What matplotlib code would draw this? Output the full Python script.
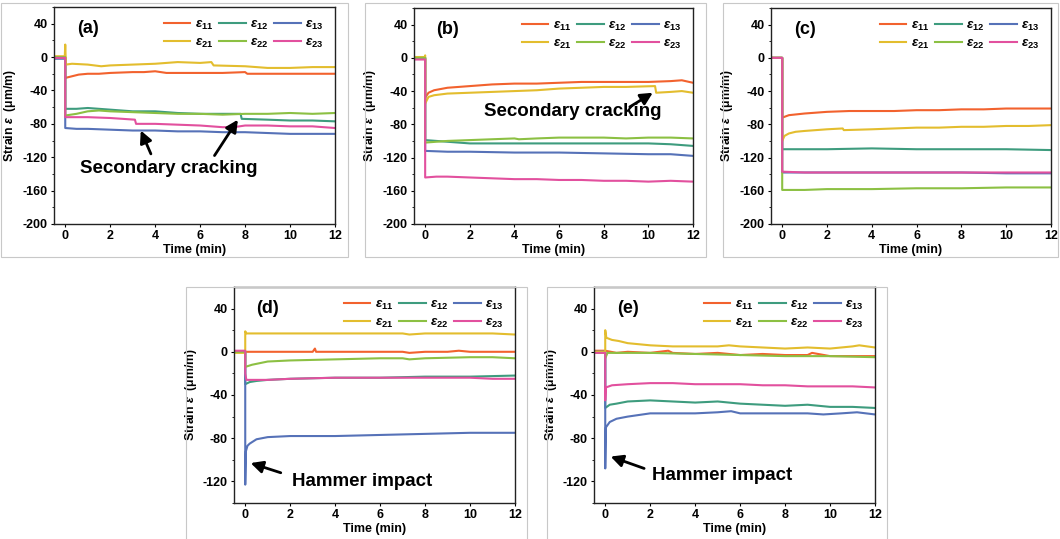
import numpy as np
import matplotlib.pyplot as plt
from matplotlib.patches import Rectangle
from matplotlib.ticker import MultipleLocator

plt.rcParams['font.family'] = ['Liberation Sans', 'DejaVu Sans']
plt.rcParams['font.weight'] = 'bold'
plt.rcParams['axes.labelweight'] = 'bold'
plt.rcParams['axes.unicode_minus'] = False
plt.rcParams['mathtext.fontset'] = 'custom'
plt.rcParams['mathtext.rm'] = 'Liberation Sans:bold'
plt.rcParams['mathtext.it'] = 'Liberation Sans:italic:bold'
plt.rcParams['mathtext.bf'] = 'Liberation Sans:bold'

W, H = 1060, 539

# strain gauge readings, (time in min, strain in um/m)
a_e11 = [(-0.5,0),(0,0),(0,-25),(0.3,-23),(0.6,-21),(1,-20),(1.5,-20),(2,-19),(3,-18),(3.5,-18),(4,-17),(4.5,-19),(5,-19),(6,-19),(7,-19),(8,-18),(8.1,-20),(9,-20),(10,-20),(11,-20),(12,-20)]
a_e12 = [(-0.5,0),(0,0),(0,-62),(0.5,-62),(1,-61),(2,-63),(3,-65),(4,-65),(5,-67),(6,-68),(7,-68),(7.8,-68),(7.85,-74),(9,-75),(10,-76),(11,-76),(12,-77)]
a_e13 = [(-0.5,-2),(0,-2),(0,-85),(0.5,-86),(1,-86),(2,-87),(3,-88),(4,-88),(5,-89),(6,-89),(7,-90),(8,-90),(9,-91),(10,-92),(11,-92),(12,-92)]
a_e21 = [(-0.5,1),(-0.02,1),(0,15),(0.03,-9),(0.3,-8),(1,-9),(1.6,-11),(2,-10),(3,-9),(4,-8),(5,-6),(6,-7),(6.5,-6),(6.6,-10),(8,-11),(9,-13),(10,-13),(11,-12),(12,-12)]
a_e22 = [(-0.5,0),(0,0),(0,-70),(0.5,-68),(1,-65),(1.5,-64),(2,-65),(3,-66),(4,-67),(5,-68),(6,-68),(7,-69),(8,-68),(9,-68),(10,-67),(11,-68),(12,-67)]
a_e23 = [(-0.5,-1),(0,-1),(0,-72),(0.5,-72),(1,-72),(2,-73),(3.1,-75),(3.15,-80),(4,-80),(5,-81),(6,-82),(7,-84),(7.5,-84),(8,-82),(9,-82),(10,-83),(11,-83),(12,-85)]

b_e11 = [(-0.5,0),(0,0),(0,-48),(0.15,-42),(0.4,-39),(1,-36),(2,-34),(3,-32),(4,-31),(5,-31),(6,-30),(7,-29),(8,-29),(9,-29),(10,-29),(11,-28),(11.5,-27),(12,-30)]
b_e12 = [(-0.5,0),(0,0),(0,-99),(0.5,-100),(1,-101),(2,-103),(3,-103),(4,-103),(5,-103),(6,-103),(7,-103),(8,-103),(9,-103),(10,-103),(11,-104),(12,-106)]
b_e13 = [(-0.5,0),(0,0),(0,-112),(1,-113),(2,-113),(4,-114),(6,-114),(8,-115),(10,-116),(11,-116),(12,-118)]
b_e21 = [(-0.5,1),(-0.02,1),(0,3),(0,-55),(0.15,-47),(0.4,-45),(1,-43),(2,-42),(3,-41),(4,-40),(5,-39),(6,-37),(7,-36),(8,-35),(9,-35),(10.3,-34),(10.35,-42),(11,-41),(11.5,-40),(12,-42)]
b_e22 = [(-0.5,0),(0,0),(0,-102),(1,-100),(2,-99),(3,-98),(4,-97),(4.2,-98),(5,-97),(6,-96),(7,-96),(8,-96),(9,-97),(10,-96),(11,-96),(12,-97)]
b_e23 = [(-0.5,-2),(0,-2),(0,-144),(0.5,-143),(1,-143),(2,-144),(3,-145),(4,-146),(5,-146),(6,-147),(7,-147),(8,-148),(9,-148),(10,-149),(11,-148),(12,-149)]

c_e11 = [(-0.5,0),(0,0),(0,-72),(0.3,-69),(1,-67),(2,-65),(3,-64),(4,-64),(5,-64),(6,-63),(7,-63),(8,-62),(9,-62),(10,-61),(11,-61),(12,-61)]
c_e12 = [(-0.5,0),(0,0),(0,-110),(2,-110),(4,-109),(6,-110),(8,-110),(10,-110),(12,-111)]
c_e13 = [(-0.5,0),(0,0),(0,-138),(2,-138),(4,-138),(6,-138),(8,-138),(10,-139),(12,-139)]
c_e21 = [(-0.5,0),(0,0),(0,-100),(0.1,-94),(0.3,-91),(0.6,-89),(1,-88),(2,-86),(2.7,-85),(2.75,-87),(4,-86),(5,-85),(6,-84),(7,-84),(8,-83),(9,-83),(10,-82),(11,-82),(12,-81)]
c_e22 = [(-0.5,0),(0,0),(0,-159),(1,-159),(2,-158),(4,-158),(6,-157),(8,-157),(10,-156),(12,-156)]
c_e23 = [(-0.5,0),(0,0),(0,-137),(1,-138),(2,-138),(4,-138),(6,-138),(8,-138),(10,-138),(12,-138)]

d_e11 = [(-0.5,0),(0,0),(1,0),(2,0),(3,0),(3.1,3),(3.15,0),(5,0),(7,0),(7.3,-1),(8,0),(9,0),(9.5,1),(10,0),(12,0)]
d_e12 = [(-0.5,0),(0,0),(0,-30),(0.2,-28),(0.5,-27),(1,-26),(2,-25),(4,-24),(6,-24),(8,-23),(10,-23),(12,-22)]
d_e13 = [(-0.5,0),(0,0),(0,-123),(0.03,-92),(0.1,-87),(0.2,-85),(0.5,-81),(1,-79),(2,-78),(4,-78),(6,-77),(8,-76),(10,-75),(11,-75),(12,-75)]
d_e21 = [(-0.5,-1),(0,-1),(0,19),(0.05,17),(1,17),(2,17),(4,17),(6,17),(7,17),(7.3,16),(8,17),(10,17),(11,17),(12,16)]
d_e22 = [(-0.5,0),(0,0),(0,-14),(0.3,-12),(1,-9),(2,-8),(4,-7),(6,-6),(7,-6),(7.3,-7),(8,-6),(10,-5),(11,-5),(12,-6)]
d_e23 = [(-0.5,1),(0,1),(0,-20),(0.05,-26),(1,-26),(2,-25),(4,-24),(6,-24),(8,-24),(10,-24),(11,-25),(12,-25)]

e_e11 = [(-0.5,1),(0,1),(0.5,-1),(1,0),(2,-1),(2.8,1),(3,-1),(4,-2),(5,-1),(6,-3),(7,-2),(8,-3),(9,-3),(9.2,-1),(10,-4),(11,-4),(12,-4)]
e_e12 = [(-0.5,0),(0,0),(0,-52),(0.2,-49),(0.5,-48),(1,-46),(2,-45),(3,-46),(4,-47),(5,-46),(6,-48),(7,-49),(8,-50),(9,-49),(10,-51),(11,-51),(12,-52)]
e_e13 = [(-0.5,0),(0,0),(0,-108),(0.03,-70),(0.2,-65),(0.5,-62),(1,-60),(2,-57),(3,-57),(4,-57),(5,-56),(5.6,-55),(6,-57),(7,-57),(8,-57),(9,-57),(9.7,-58),(10.5,-57),(11.2,-56),(12,-58)]
e_e21 = [(-0.5,0),(0,0),(0,20),(0.05,13),(0.3,11),(0.6,10),(1,8),(2,6),(3,5),(4,5),(5,5),(5.5,6),(6,5),(7,4),(8,3),(9,4),(10,3),(11,5),(11.3,6),(12,4)]
e_e22 = [(-0.5,-1),(0,-1),(0,-6),(0.1,-1),(1,-1),(2,-1),(4,-2),(6,-3),(8,-4),(10,-4),(12,-5)]
e_e23 = [(-0.5,-1),(0,-1),(0,-45),(0.03,-33),(0.3,-31),(1,-30),(2,-29),(3,-29),(4,-30),(5,-30),(6,-30),(7,-31),(8,-31),(9,-32),(10,-32),(11,-32),(12,-33)]

names = ['11', '12', '13', '21', '22', '23']
colors = ['#F2622E', '#3E9C7E', '#5672B8', '#E3BD2E', '#8CC043', '#E2509E']

panels = [
    ('(a)', [a_e11, a_e12, a_e13, a_e21, a_e22, a_e23], (54, 7, 335, 224), (-200, 60)),
    ('(b)', [b_e11, b_e12, b_e13, b_e21, b_e22, b_e23], (414, 8, 693, 224), (-200, 60)),
    ('(c)', [c_e11, c_e12, c_e13, c_e21, c_e22, c_e23], (771, 8, 1051, 224), (-200, 60)),
    ('(d)', [d_e11, d_e12, d_e13, d_e21, d_e22, d_e23], (234, 287, 515, 503), (-140, 60)),
    ('(e)', [e_e11, e_e12, e_e13, e_e21, e_e22, e_e23], (594, 287, 875, 503), (-140, 60)),
]

# light grey boxes around each sub-figure
frames = [(1, 3, 348, 257), (365, 3, 706, 257), (723, 3, 1058, 257),
          (186, 287, 527, 545), (547, 287, 887, 545)]

fig = plt.figure(figsize=(W / 100, H / 100), dpi=100)

for l, t, r, b in frames:
    fig.add_artist(Rectangle((l / W, 1 - b / H), (r - l) / W, (b - t) / H,
                             transform=fig.transFigure, fill=False,
                             edgecolor='#c8c8c8', lw=0.8))

axes = []
for tag, series, (l, t, r, b), ylim in panels:
    ax = fig.add_axes([l / W, 1 - b / H, (r - l) / W, (b - t) / H])
    lines = []
    for name, col, s in zip(names, colors, series):
        s = np.array(s)
        ln, = ax.plot(s[:, 0], s[:, 1], color=col, lw=1.5,
                      label=r'$\varepsilon_{%s}$' % name)
        lines.append(ln)
    ax.set_xlim(-0.5, 12)
    ax.set_ylim(*ylim)
    ax.xaxis.set_major_locator(MultipleLocator(2))
    ax.yaxis.set_major_locator(MultipleLocator(40))
    ax.yaxis.set_minor_locator(MultipleLocator(20))
    ax.tick_params(which='major', direction='out', length=2.5, width=0.8,
                   labelsize=9, pad=2)
    ax.tick_params(which='minor', direction='out', length=1.5, width=0.6)
    for lab in ax.get_xticklabels() + ax.get_yticklabels():
        lab.set_fontweight('bold')
    for sp in ax.spines.values():
        sp.set_linewidth(1.0)
        sp.set_color('#222222')
    ax.set_xlabel('Time (min)', fontsize=9, fontweight='bold', labelpad=1)
    ax.set_ylabel(r'Strain $\varepsilon$  (μm/m)', fontsize=8.8,
                  fontweight='bold', labelpad=3)
    ax.text(0.12, 0.90, tag, transform=ax.transAxes, fontsize=13,
            fontweight='bold', ha='center', va='center')
    order = [0, 3, 1, 4, 2, 5]
    ax.legend([lines[i] for i in order], [lines[i].get_label() for i in order],
              ncol=3, loc='upper right', frameon=False, fontsize=9.5,
              handlelength=2.0, handletextpad=0.35, columnspacing=0.45,
              labelspacing=0.4, borderaxespad=0.45)
    axes.append(ax)

arrow = dict(arrowstyle='-|>', color='black', lw=2, mutation_scale=18,
             shrinkA=0, shrinkB=0)
ax_a, ax_b, ax_c, ax_d, ax_e = axes

ax_a.text(4.6, -134, 'Secondary cracking', fontsize=13.5, fontweight='bold',
          ha='center', va='center')
ax_a.annotate('', xy=(3.36, -88), xytext=(3.81, -116), arrowprops=arrow)
ax_a.annotate('', xy=(7.68, -75), xytext=(6.64, -118), arrowprops=arrow)

ax_b.text(6.6, -64, 'Secondary cracking', fontsize=13.5, fontweight='bold',
          ha='center', va='center')
ax_b.annotate('', xy=(10.2, -42), xytext=(9.17, -59), arrowprops=arrow)

ax_d.text(5.22, -120, 'Hammer impact', fontsize=13.5, fontweight='bold',
          ha='center', va='center')
ax_d.annotate('', xy=(0.24, -103), xytext=(1.58, -112), arrowprops=arrow)

ax_e.text(5.18, -115, 'Hammer impact', fontsize=13.5, fontweight='bold',
          ha='center', va='center')
ax_e.annotate('', xy=(0.24, -97), xytext=(1.73, -108), arrowprops=arrow)

fig.savefig('out.png', dpi=100)
